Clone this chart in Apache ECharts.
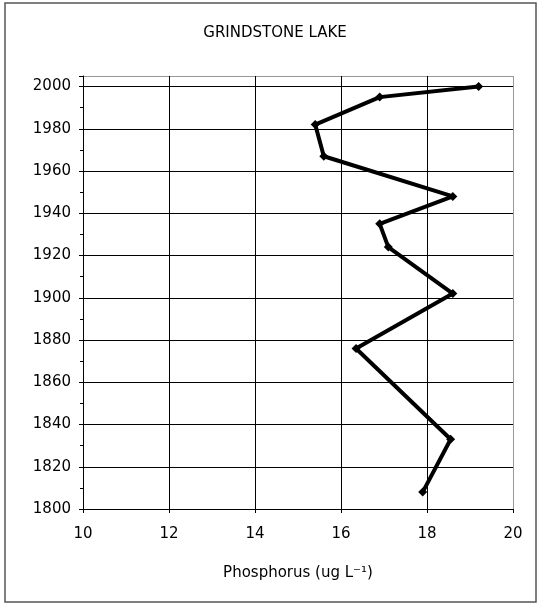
<!DOCTYPE html>
<html><head><meta charset="utf-8">
<script src="https://cdn.jsdelivr.net/npm/echarts@6/dist/echarts.min.js"></script>
<style>html,body{margin:0;padding:0;background:#fff}#c{width:541px;height:605px}</style>
</head><body><div id="c"></div>
<script>
const titleText = 'GRINDSTONE LAKE';
const xAxisName = 'Phosphorus (ug L\u207B\u00B9)';
const phosphorus = [19.2, 16.9, 15.4, 15.6, 18.6, 16.9, 17.1, 18.6, 16.35, 18.55, 17.9];
const years = [2000, 1995, 1982, 1967, 1948, 1935, 1924, 1902, 1876, 1833, 1808];

const chart = echarts.init(document.getElementById('c'));
const data = phosphorus.map((p, i) => [p, years[i]]);
const font = 'DejaVu Sans, sans-serif';
chart.setOption({
  animation: false,
  backgroundColor: '#fff',
  title: { text: titleText, left: 270, top: 21, textAlign: 'center',
    textStyle: { fontFamily: font, fontSize: 15, fontWeight: 'normal', color: '#000' } },
  graphic: [{ type: 'rect', shape: { x: 5, y: 3, width: 531, height: 599 },
    style: { fill: 'none', stroke: '#555', lineWidth: 1.5 }, silent: true }],
  grid: { left: 83, right: 28, top: 76, bottom: 96 },
  xAxis: {
    type: 'value', min: 10, max: 20, interval: 2,
    name: xAxisName, nameLocation: 'middle', nameGap: 57,
    nameTextStyle: { fontFamily: font, fontSize: 15, color: '#000' },
    axisLine: { show: true, lineStyle: { color: '#000', width: 1 } },
    axisTick: { show: true, length: 4, lineStyle: { color: '#000' } },
    axisLabel: { fontFamily: font, fontSize: 15, color: '#000', margin: 18 },
    splitLine: { show: true, lineStyle: { color: ['#000','#000','#000','#000','#000','#999'], width: 1 } }
  },
  yAxis: {
    type: 'value', min: 1800, max: 2005, interval: 20,
    axisLine: { show: true, lineStyle: { color: '#000', width: 1 } },
    axisTick: { show: true, length: 4, lineStyle: { color: '#000' } },
    minorTick: { show: true, splitNumber: 2, length: 3, lineStyle: { color: '#000' } },
    axisLabel: { fontFamily: font, fontSize: 15, color: '#000', margin: 12,
      formatter: v => (v % 20 === 0 ? String(v) : '') },
    splitLine: { show: true, lineStyle: { color: ['#000','#000','#000','#000','#000','#000','#000','#000','#000','#000','#000','#999'], width: 1 } }
  },
  series: [{
    type: 'line', data: data, symbol: 'diamond', symbolSize: 9,
    lineStyle: { color: '#000', width: 4 },
    itemStyle: { color: '#000' }
  }]
});
</script></body></html>
